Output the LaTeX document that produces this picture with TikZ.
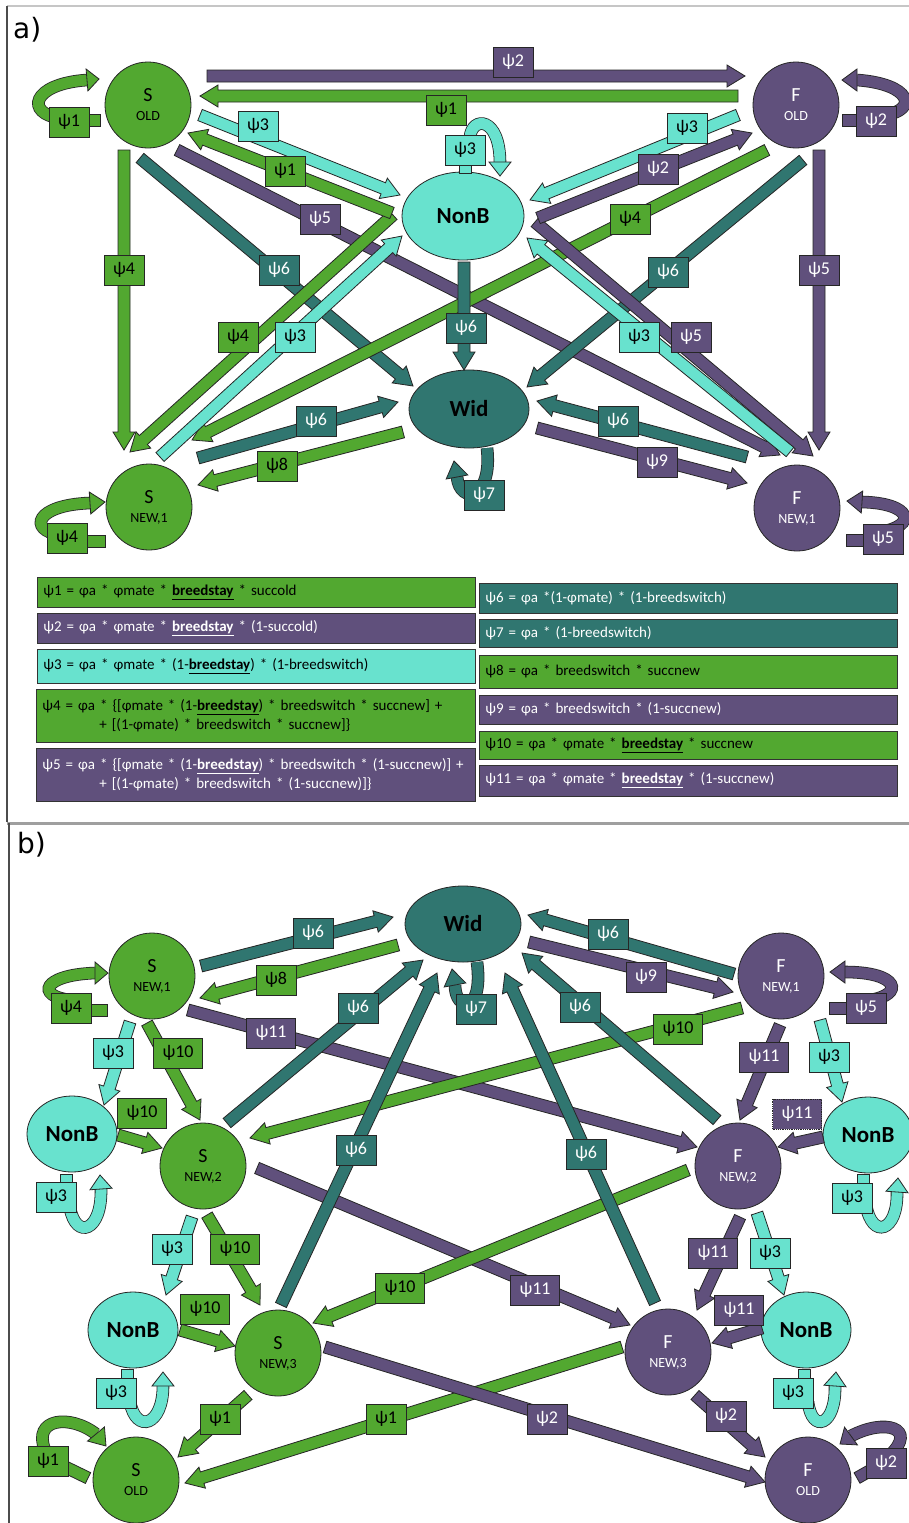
\documentclass[tikz,border=0pt]{standalone}
\usepackage{fontspec}
\setmainfont{Carlito}
\newfontfamily\dejavu{DejaVu Sans}
\usetikzlibrary{calc,shapes.geometric}
\definecolor{cg}{RGB}{82,168,48}
\definecolor{cp}{RGB}{96,80,124}
\definecolor{ct}{RGB}{48,118,112}
\definecolor{cc}{RGB}{104,226,206}
\newcommand\bu[1]{\underline{\textbf{#1}}}
\newcommand\st[2]{{\fontsize{20}{20}\selectfont #1}\\[7pt]{\fontsize{14}{14}\selectfont #2}}
% block arrow: name, colour, start, end
\newcommand\BA[4]{\coordinate (#1s) at (#3); \coordinate (#1e) at (#4);
 \coordinate (#1h) at ($(#1e)!18pt!(#1s)$);
 \draw[blk,fill=#2] ($(#1s)!6pt!90:(#1e)$) -- ($(#1h)!6pt!90:(#1e)$) -- ($(#1h)!11pt!90:(#1e)$) -- (#1e) -- ($(#1h)!11pt!-90:(#1e)$) -- ($(#1h)!6pt!-90:(#1e)$) -- ($(#1s)!6pt!-90:(#1e)$) -- cycle;}
% bar without head
\newcommand\BB[4]{\coordinate (#1s) at (#3); \coordinate (#1e) at (#4);
 \draw[blk,fill=#2] ($(#1s)!6pt!90:(#1e)$) -- ($(#1e)!6pt!-90:(#1s)$) -- ($(#1e)!6pt!90:(#1s)$) -- ($(#1s)!6pt!-90:(#1e)$) -- cycle;}
% curved ribbon with head: name, colour, path, base, tip
\newcommand\LP[5]{\draw[rib=#2] #3; \coordinate (#1b) at (#4); \coordinate (#1t) at (#5);
 \draw[blk,fill=#2] ($(#1b)!11pt!90:(#1t)$) -- (#1t) -- ($(#1b)!11pt!-90:(#1t)$) -- cycle;}
\begin{document}
\begin{tikzpicture}[x=1pt,y=-1pt,
  blk/.style={draw=black!85,line width=0.8pt,line join=miter},
  rib/.style={draw=black!85,line width=0.8pt,double=#1,double distance=11pt},
  lab/.style={draw=black!85,line width=0.8pt,fill=#1,inner xsep=9pt,inner ysep=0pt,minimum height=30pt,font=\fontsize{18}{18}\selectfont},
  lg/.style={lab=cg},
  lp/.style={lab=cp,text=white},
  lt/.style={lab=ct,text=white},
  lc/.style={lab=cc},
  circ/.style={circle,draw=black!85,line width=0.8pt,minimum size=86pt,inner sep=0pt,align=center},
  ell/.style={ellipse,draw=black!85,line width=0.8pt,inner sep=0pt,font=\fontsize{23}{23}\selectfont\bfseries},
  leg/.style={draw=black!80,line width=0.8pt,inner xsep=6pt,inner ysep=0pt,font=\fontsize{15}{19}\selectfont,align=left,anchor=west}]
\fill[white] (0,0) rectangle (909,1523);
\useasboundingbox (0,0) rectangle (909,1523);
% frames
\draw[gray!45,line width=1.2pt] (7,6) -- (909,6);
\draw[black!70,line width=1.5pt] (7,6) -- (7,822);
\draw[gray!75,line width=3pt] (7,823) -- (909,823);
\draw[black!70,line width=1.5pt] (9,823) -- (9,1523);
\node[font=\dejavu\fontsize{28}{28}\selectfont,anchor=west,inner sep=0pt] (ta) at (13,30) {a)};
\node[font=\dejavu\fontsize{28}{28}\selectfont,anchor=west,inner sep=0pt] (tb) at (17,845) {b)};

% ================= PANEL A =================
\node[circ,fill=cg] (aSold) at (148,105) {\st{S}{OLD}};
\node[circ,fill=cp,text=white] (aFold) at (796,105) {\st{F}{OLD}};
\node[circ,fill=cg] (aSn1) at (149,507) {\st{S}{NEW,1}};
\node[circ,fill=cp,text=white] (aFn1) at (797,508) {\st{F}{NEW,1}};
\node[ell,fill=cc,minimum width=122pt,minimum height=88pt] (aNonB) at (463,216) {NonB};
\node[ell,fill=ct,minimum width=120pt,minimum height=78pt] (aWid) at (469,409) {Wid};

\BA{a1}{cp}{207,76}{745,76}
\BA{a2}{cg}{738,96}{200,96}
\BA{a7}{cp}{177,150}{780,455}
\BA{a8}{ct}{140,158}{413,386}
\BA{a9}{cg}{124,150}{124,450}
\BA{a12}{cg}{767,150}{192,440}
\BA{a13}{ct}{803,160}{527,387}
\BA{a14}{cp}{819,150}{819,450}
\BA{a17}{cp}{535,222}{813,456}
\BA{a18}{cc}{790,452}{527,238}
\BA{a10}{cg}{393,215}{130,452}
\BA{a11}{cc}{160,457}{402,236}
\BA{a5}{cc}{200,115}{400,195}
\BA{a6}{cg}{392,213}{188,133}
\BA{a15}{cc}{738,115}{530,200}
\BA{a16}{cp}{538,218}{752,133}
\BA{a20}{ct}{464,262}{464,370}
\BA{a21}{ct}{198,458}{398,402}
\BA{a22}{cg}{403,432}{198,485}
\BA{a23}{ct}{747,457}{537,401}
\BA{a24}{cp}{537,428}{747,483}
% loops and stubs
\BB{a3s}{cg}{80,120}{100,120}
\LP{a3}{cg}{(60,118) .. controls (26,114) and (30,84) .. (87,80)}{87,80}{99,79}
\BB{a4s}{cp}{865,120}{842,120}
\LP{a4}{cp}{(885,115) .. controls (918,110) and (912,84) .. (857,80)}{857,80}{842,80}
\BB{a26s}{cg}{80,541}{105,541}
\LP{a26}{cg}{(60,535) .. controls (28,530) and (35,505) .. (90,503)}{90,503}{105,502}
\BB{a27s}{cp}{870,540}{846,540}
\LP{a27}{cp}{(880,532) .. controls (918,526) and (912,503) .. (862,502)}{862,502}{847,501}
\BB{a19s}{cc}{465,150}{465,173}
\LP{a19}{cc}{(470,137) .. controls (472,116) and (500,116) .. (500,163)}{500,162}{500,176}
\LP{a25}{ct}{(487,448) .. controls (493,500) and (460,505) .. (457,477)}{457,477}{454,461}
% labels
\node[lp] (la1) at (513,62) {ψ2};
\node[lg] (la2) at (446,110) {ψ1};
\node[lg] (la3) at (69,122) {ψ1};
\node[lp] (la4) at (876,121) {ψ2};
\node[lc] (la5) at (258,126) {ψ3};
\node[lc] (la19) at (465,150) {ψ3};
\node[lc] (la15) at (687,128) {ψ3};
\node[lg] (la6) at (285,171) {ψ1};
\node[lp] (la16) at (658,169) {ψ2};
\node[lp] (la7) at (320,219) {ψ5};
\node[lg] (la12) at (630,219) {ψ4};
\node[lg] (la9) at (124,270) {ψ4};
\node[lt] (la8) at (279,270) {ψ6};
\node[lt] (la13) at (668,272) {ψ6};
\node[lp] (la14) at (819,270) {ψ5};
\node[lt] (la20) at (466,328) {ψ6};
\node[lg] (la10) at (238,337) {ψ4};
\node[lc] (la11) at (295,337) {ψ3};
\node[lc] (la18) at (639,337) {ψ3};
\node[lp] (la17) at (691,337) {ψ5};
\node[lt] (la21) at (316,421) {ψ6};
\node[lt] (la23) at (618,421) {ψ6};
\node[lg] (la22) at (277,466) {ψ8};
\node[lp] (la24) at (657,462) {ψ9};
\node[lt] (la25) at (484,495) {ψ7};
\node[lg] (la26) at (67,538) {ψ4};
\node[lp] (la27) at (883,539) {ψ5};

% legend
\node[leg,fill=cg,minimum width=438pt,minimum height=30pt,text width=426pt] (L1) at (37,592) {ψ1 = φa * φmate * \bu{breedstay} * succold};
\node[leg,fill=cp,text=white,minimum width=438pt,minimum height=30pt,text width=426pt] (L2) at (37,628) {ψ2 = φa * φmate * \bu{breedstay} * (1-succold)};
\node[leg,fill=cc,minimum width=438pt,minimum height=34pt,text width=426pt] (L3) at (37,666) {ψ3 = φa * φmate * (1-\bu{breedstay}) * (1-breedswitch)};
\node[leg,fill=cg,minimum width=439pt,minimum height=53pt,text width=427pt] (L4) at (36,715.5) {ψ4 = φa * \{[φmate * (1-\bu{breedstay}) * breedswitch * succnew] +\\\hspace*{57pt}+ [(1-φmate) * breedswitch * succnew]\}};
\node[leg,fill=cp,text=white,minimum width=439pt,minimum height=53pt,text width=427pt] (L5) at (36,774.5) {ψ5 = φa * \{[φmate * (1-\bu{breedstay}) * breedswitch * (1-succnew)] +\\\hspace*{57pt}+ [(1-φmate) * breedswitch * (1-succnew)]\}};
\node[leg,fill=ct,text=white,minimum width=418pt,minimum height=30pt,text width=406pt] (R6) at (479,598) {ψ6 = φa *(1-φmate) * (1-breedswitch)};
\node[leg,fill=ct,text=white,minimum width=418pt,minimum height=28pt,text width=406pt] (R7) at (479,633) {ψ7 = φa * (1-breedswitch)};
\node[leg,fill=cg,minimum width=418pt,minimum height=33pt,text width=406pt] (R8) at (479,671.5) {ψ8 = φa * breedswitch * succnew};
\node[leg,fill=cp,text=white,minimum width=418pt,minimum height=29pt,text width=406pt] (R9) at (479,709.5) {ψ9 = φa * breedswitch * (1-succnew)};
\node[leg,fill=cg,minimum width=418pt,minimum height=28pt,text width=406pt] (R10) at (479,745) {ψ10 = φa * φmate * \bu{breedstay} * succnew};
\node[leg,fill=cp,text=white,minimum width=418pt,minimum height=31pt,text width=406pt] (R11) at (479,780.5) {ψ11 = φa * φmate * \bu{breedstay} * (1-succnew)};

% ================= PANEL B =================
\node[ell,fill=ct,minimum width=116pt,minimum height=76pt] (bWid) at (463,924) {Wid};
\node[circ,fill=cg] (bSn1) at (152,976) {\st{S}{NEW,1}};
\node[circ,fill=cp,text=white] (bFn1) at (781,976) {\st{F}{NEW,1}};
\node[ell,fill=cc,minimum width=90pt,minimum height=76pt] (bNL1) at (72,1134) {NonB};
\node[circ,fill=cg] (bSn2) at (203,1166) {\st{S}{NEW,2}};
\node[circ,fill=cp,text=white] (bFn2) at (738,1166) {\st{F}{NEW,2}};
\node[ell,fill=cc,minimum width=90pt,minimum height=76pt] (bNR1) at (868,1135) {NonB};
\node[ell,fill=cc,minimum width=90pt,minimum height=76pt] (bNL2) at (133,1330) {NonB};
\node[circ,fill=cg] (bSn3) at (278,1353) {\st{S}{NEW,3}};
\node[circ,fill=cp,text=white] (bFn3) at (668,1352) {\st{F}{NEW,3}};
\node[ell,fill=cc,minimum width=90pt,minimum height=76pt] (bNR2) at (806,1330) {NonB};
\node[circ,fill=cg] (bSold) at (136,1480) {\st{S}{OLD}};
\node[circ,fill=cp,text=white] (bFold) at (808,1480) {\st{F}{OLD}};

\BA{b19}{cp}{188,1010}{697,1147}
\BA{b20}{cp}{257,1168}{630,1325}
\BA{b21}{cg}{742,1008}{250,1138}
\BA{b14}{cg}{688,1170}{313,1323}
\BA{b13}{cg}{622,1347}{185,1483}
\BA{b16}{cp}{325,1347}{765,1482}
\BA{b22}{ct}{227,1123}{423,960}
\BA{b23}{ct}{281,1305}{437,973}
\BA{b24}{ct}{655,1303}{505,973}
\BA{b25}{ct}{717,1120}{522,953}
\BA{b1}{ct}{201,966}{393,917}
\BA{b2}{cg}{398,945}{200,998}
\BA{b26}{ct}{734,974}{528,915}
\BA{b27}{cp}{529,942}{733,992}
\BA{b4}{cc}{130,1022}{104,1105}
\BA{b5}{cg}{147,1023}{200,1120}
\BA{b6}{cg}{118,1135}{162,1148}
\BA{b8}{cc}{192,1217}{166,1295}
\BA{b9}{cg}{207,1215}{260,1305}
\BA{b10}{cg}{180,1330}{235,1346}
\BA{b12}{cg}{248,1395}{178,1457}
\BA{b17}{cp}{695,1395}{765,1457}
\BA{b30}{cp}{780,1025}{740,1120}
\BA{b31}{cc}{820,1020}{842,1102}
\BA{b32}{cp}{823,1137}{778,1147}
\BA{b34}{cp}{740,1217}{697,1310}
\BA{b35}{cc}{757,1213}{784,1295}
\BA{b36}{cp}{762,1328}{712,1343}
% loops and stubs
\BB{b3s}{cg}{80,1010}{107,1010}
\LP{b3}{cg}{(70,1000) .. controls (36,996) and (42,975) .. (95,973)}{95,973}{108,973}
\BB{b29s}{cp}{855,1008}{829,1008}
\LP{b29}{cp}{(870,1000) .. controls (904,995) and (900,972) .. (845,972)}{845,972}{830,972}
\BB{b7s}{cc}{66,1190}{66,1174}
\LP{b7}{cc}{(70,1208) .. controls (76,1240) and (102,1232) .. (101,1189)}{101,1189}{100,1175}
\BB{b11s}{cc}{127,1385}{127,1369}
\LP{b11}{cc}{(130,1402) .. controls (136,1434) and (163,1426) .. (163,1386)}{163,1386}{163,1372}
\BB{b33s}{cc}{863,1190}{863,1174}
\LP{b33}{cc}{(866,1205) .. controls (872,1240) and (898,1232) .. (897,1192)}{897,1192}{898,1178}
\BB{b37s}{cc}{804,1385}{804,1369}
\LP{b37}{cc}{(808,1402) .. controls (812,1434) and (836,1426) .. (835,1386)}{835,1386}{836,1372}
\BB{b15s}{cg}{55,1462}{88,1478}
\LP{b15}{cg}{(45,1450) .. controls (32,1418) and (70,1414) .. (96,1434)}{96,1434}{106,1446}
\BB{b18s}{cp}{880,1465}{857,1478}
\LP{b18}{cp}{(890,1455) .. controls (918,1428) and (885,1418) .. (851,1436)}{851,1436}{840,1444}
\LP{b28}{ct}{(477,962) .. controls (484,1015) and (455,1012) .. (455,985)}{455,985}{452,969}
% labels
\node[lt] (lb1) at (313,933) {ψ6};
\node[lg] (lb2) at (276,980) {ψ8};
\node[lg] (lb3) at (71,1008) {ψ4};
\node[lc] (lb4) at (113,1053) {ψ3};
\node[lg] (lb5) at (178,1053) {ψ10};
\node[lg] (lb6) at (142,1113) {ψ10};
\node[lc] (lb7) at (56,1197) {ψ3};
\node[lc] (lb8) at (172,1249) {ψ3};
\node[lg] (lb9) at (235,1249) {ψ10};
\node[lg] (lb10) at (205,1309) {ψ10};
\node[lc] (lb11) at (116,1393) {ψ3};
\node[lg] (lb12) at (220,1419) {ψ1};
\node[lg] (lb13) at (386,1419) {ψ1};
\node[lg] (lb15) at (48,1461) {ψ1};
\node[lp] (lb16) at (547,1419) {ψ2};
\node[lp] (lb17) at (726,1416) {ψ2};
\node[lp] (lb18) at (886,1463) {ψ2};
\node[lp] (lb19) at (271,1033) {ψ11};
\node[lp] (lb20) at (535,1290) {ψ11};
\node[lg] (lb21) at (678,1029) {ψ10};
\node[lt] (lb22) at (358,1008) {ψ6};
\node[lt] (lb23) at (356,1150) {ψ6};
\node[lt] (lb24) at (586,1154) {ψ6};
\node[lt] (lb25) at (580,1007) {ψ6};
\node[lt] (lb26) at (608,934) {ψ6};
\node[lp] (lb27) at (646,977) {ψ9};
\node[lt] (lb28) at (476,1009) {ψ7};
\node[lp] (lb29) at (866,1008) {ψ5};
\node[lp] (lb30) at (764,1057) {ψ11};
\node[lc] (lb31) at (829,1057) {ψ3};
\node[lp,densely dotted] (lb32) at (797,1114) {ψ11};
\node[lc] (lb33) at (852,1198) {ψ3};
\node[lp] (lb34) at (713,1253) {ψ11};
\node[lc] (lb35) at (770,1253) {ψ3};
\node[lp] (lb36) at (739,1310) {ψ11};
\node[lc] (lb37) at (793,1393) {ψ3};
\node[lg] (lb14) at (400,1288) {ψ10};
\end{tikzpicture}
\end{document}
